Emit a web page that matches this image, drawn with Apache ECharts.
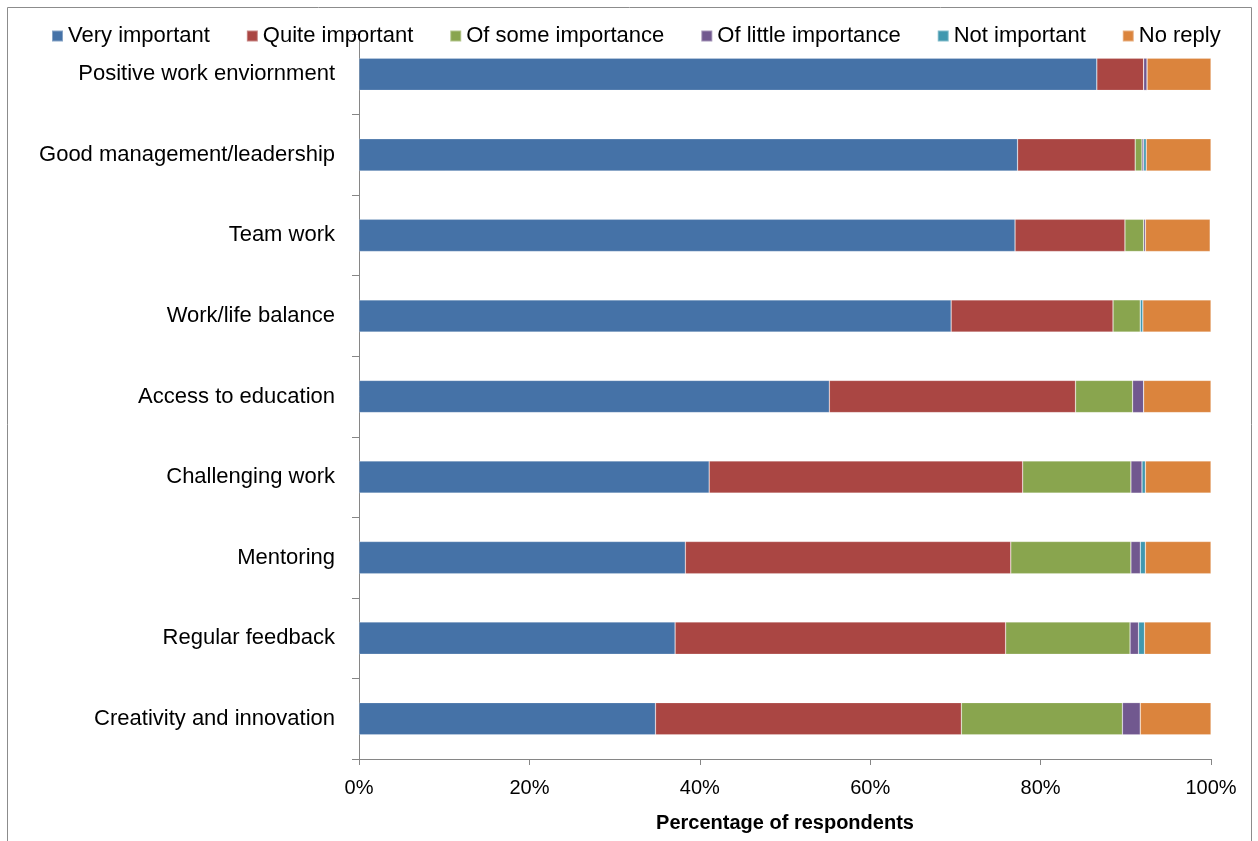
<!DOCTYPE html>
<html>
<head>
<meta charset="utf-8">
<script src="https://cdn.jsdelivr.net/npm/echarts@6/dist/echarts.min.js"></script>
<style>html,body{margin:0;padding:0;background:#fff;}#chart{width:1258px;height:841px;}</style>
</head>
<body>
<div id="chart"></div>
<script>
const categories = ["Positive work enviornment","Good management/leadership","Team work","Work/life balance","Access to education","Challenging work","Mentoring","Regular feedback","Creativity and innovation"];
const seriesNames = ["Very important","Quite important","Of some importance","Of little importance","Not important","No reply"];
const veryImportant   = [86.6, 77.3, 77.0, 69.5, 55.2, 41.1, 38.3, 37.1, 34.8];
const quiteImportant  = [5.5, 13.8, 12.9, 19.0, 28.9, 36.8, 38.2, 38.8, 35.9];
const someImportance  = [0, 0.8, 2.2, 3.2, 6.7, 12.7, 14.1, 14.6, 18.9];
const littleImportance= [0.4, 0.2, 0.2, 0, 1.3, 1.3, 1.1, 1.0, 2.1];
const notImportant    = [0, 0.3, 0, 0.3, 0, 0.4, 0.6, 0.7, 0];
const noReply         = [7.5, 7.6, 7.6, 8.0, 7.9, 7.7, 7.7, 7.8, 8.3];
const xTicks = [0, 20, 40, 60, 80, 100];
const colors = ["#4572A7","#AA4643","#89A54E","#71588F","#4198AF","#DB843D"];
const allValues = [veryImportant, quiteImportant, someImportance, littleImportance, notImportant, noReply];

const chart = echarts.init(document.getElementById('chart'), null, {renderer:'canvas'});
const font = 'Liberation Sans';
chart.setOption({
  animation: false,
  color: colors,
  graphic: [{type:'rect', shape:{x:7.5,y:7.5,width:1244,height:840}, style:{fill:'none', stroke:'#8c8c8c', lineWidth:1}, z:-1}],
  legend: {
    top: 20, left: 46,
    itemWidth: 11, itemHeight: 11, itemGap: 36,
    icon: 'rect',
    textStyle: {fontFamily: font, fontSize: 22, color:'#000'},
    data: seriesNames
  },
  grid: {left: 359, right: 47, top: 34, bottom: 82, containLabel: false},
  xAxis: {
    type: 'value', min: xTicks[0], max: xTicks[xTicks.length-1], interval: 20,
    name: 'Percentage of respondents', nameLocation: 'middle', nameGap: 54,
    nameTextStyle: {fontFamily: font, fontSize: 20, fontWeight: 'bold', color:'#000'},
    axisLine: {show: true, lineStyle: {color:'#868686', width:1}},
    axisTick: {show: true, length: 6, lineStyle: {color:'#868686'}},
    axisLabel: {formatter: '{value}%', fontFamily: font, fontSize: 20, color:'#000', margin: 19},
    splitLine: {show: false}
  },
  yAxis: {
    type: 'category', inverse: true, data: categories,
    axisLine: {show: true, lineStyle: {color:'#868686', width:1}},
    axisTick: {show: true, length: 7, lineStyle: {color:'#868686'}},
    axisLabel: {fontFamily: font, fontSize: 22, color:'#000', margin: 24}
  },
  series: seriesNames.map((n, i) => ({
    name: n, type: 'bar', stack: 'total', barCategoryGap: '60%',
    data: allValues[i],
    itemStyle: {color: colors[i], borderColor: 'rgba(255,255,255,0.35)', borderWidth: 0.6}
  }))
});
</script>
</body>
</html>
